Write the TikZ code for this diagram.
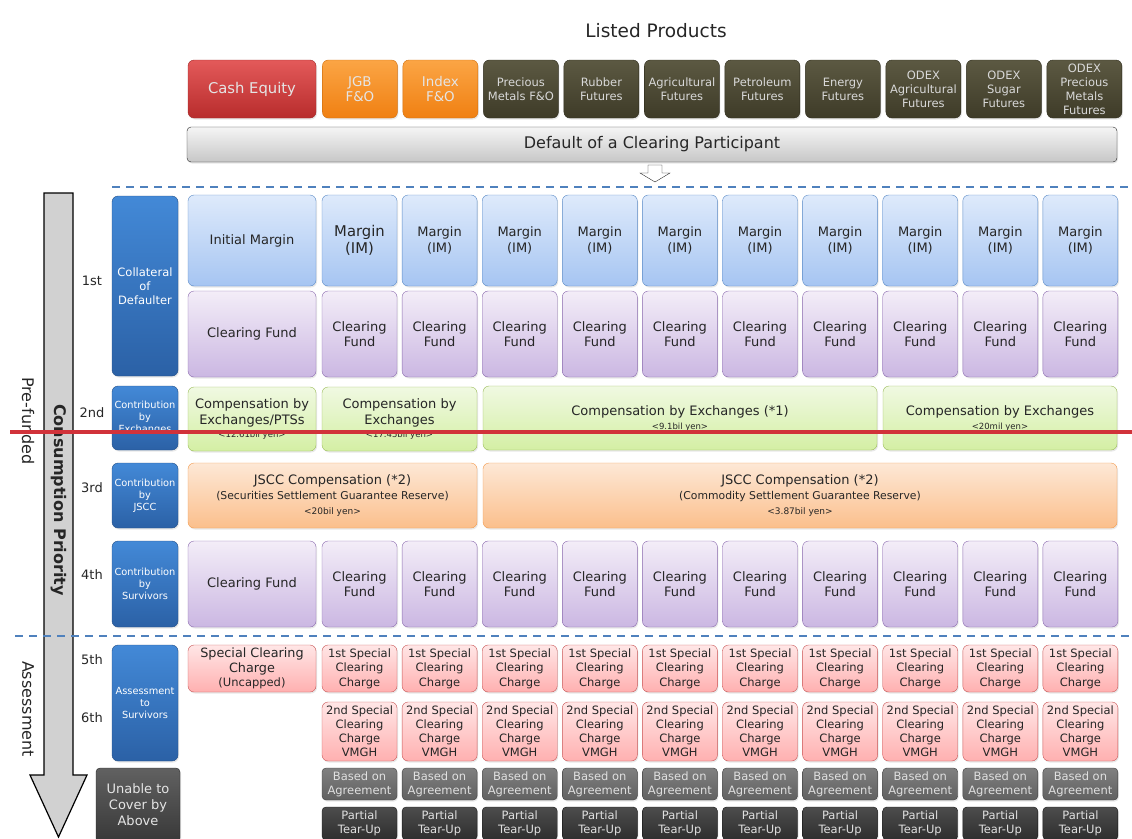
\documentclass[tikz,border=0pt]{standalone}
\usepackage{fontspec}
\setmainfont{DejaVu Sans}
\usepackage{tikz}
\usetikzlibrary{positioning, calc, shadows}

\newcommand{\fsz}[2]{\fontsize{#1}{#2}\selectfont}

\definecolor{txt}{HTML}{262626}
\definecolor{cashT}{HTML}{E35A5A}\definecolor{cashB}{HTML}{B82C2C}\definecolor{cashD}{HTML}{A02828}
\definecolor{orgT}{HTML}{FBA545}\definecolor{orgB}{HTML}{F08012}\definecolor{orgD}{HTML}{D07010}
\definecolor{olvT}{HTML}{5C5942}\definecolor{olvB}{HTML}{3E3B28}\definecolor{olvD}{HTML}{2F2D1E}
\definecolor{imT}{HTML}{DEEAFB}\definecolor{imB}{HTML}{A6C5F2}\definecolor{imD}{HTML}{5A8AC6}
\definecolor{cfT}{HTML}{F3EDF8}\definecolor{cfB}{HTML}{CBB7E2}\definecolor{cfD}{HTML}{8A6AAE}
\definecolor{grnT}{HTML}{F0F9E2}\definecolor{grnB}{HTML}{D4EFA4}\definecolor{grnD}{HTML}{9BBB59}
\definecolor{jsT}{HTML}{FDE8D6}\definecolor{jsB}{HTML}{FBBF8C}\definecolor{jsD}{HTML}{F2994C}
\definecolor{chT}{HTML}{FFE6E6}\definecolor{chB}{HTML}{FFB0B0}\definecolor{chD}{HTML}{C85555}
\definecolor{sideT}{HTML}{4389D7}\definecolor{sideB}{HTML}{2B61A6}\definecolor{sideD}{HTML}{254F86}
\definecolor{dashblue}{HTML}{4F81BD}
\definecolor{redline}{HTML}{D1323A}

\tikzset{
  box/.style={rounded corners=6pt, draw, align=center, inner sep=1pt, text=txt,
    drop shadow={opacity=0.18, shadow xshift=1pt, shadow yshift=-1.5pt}},
  prod/.style={box, minimum width=75pt, minimum height=58pt, text=white!90!black,
    font=\fsz{11.5}{14}},
  cash/.style={prod, draw=cashD, top color=cashT, bottom color=cashB, font=\fsz{14.8}{17}},
  orng/.style={prod, draw=orgD, top color=orgT, bottom color=orgB, font=\fsz{13.4}{15}},
  olive/.style={prod, draw=olvD, top color=olvT, bottom color=olvB, text=white!85!black},
  margin/.style={box, draw=imD, top color=imT, bottom color=imB, minimum width=75pt,
    minimum height=91pt, font=\fsz{13}{16}},
  fund/.style={box, draw=cfD, top color=cfT, bottom color=cfB, minimum width=75pt,
    minimum height=86pt, font=\fsz{13}{15}},
  comp/.style={box, draw=grnD, top color=grnT, bottom color=grnB, minimum height=64pt,
    font=\fsz{13}{16}},
  jscc/.style={box, draw=jsD, top color=jsT, bottom color=jsB, minimum height=65pt,
    font=\fsz{13}{15}},
  charge/.style={box, draw=chD, top color=chT, bottom color=chB, minimum width=75pt,
    minimum height=47pt, font=\fsz{11.5}{14.5}},
  agree/.style={box, rounded corners=4pt, draw=black!75, top color=black!50,
    bottom color=black!62, minimum width=75pt, minimum height=32pt,
    text=white!88!black, font=\fsz{11.5}{14}},
  tearup/.style={box, rounded corners=4pt, draw=black!90, top color=black!70,
    bottom color=black!82, minimum width=75pt, minimum height=33pt,
    text=white!88!black, font=\fsz{11.5}{13.5}},
  side/.style={box, draw=sideD, top color=sideT, bottom color=sideB, minimum width=66pt,
    text=white, font=\fsz{9.8}{12}},
  order/.style={text=txt, font=\fsz{13}{15}},
  stage/.style={text=txt, rotate=-90, font=\fsz{16}{18}},
  divider/.style={dashblue, line width=2.5pt, dash pattern=on 8pt off 6pt},
}

\begin{document}
\begin{tikzpicture}[x=1pt, y=-1pt]
    \useasboundingbox (0,0) rectangle (1132,838);

    % listed products
    \node[text=txt, font=\fsz{18.5}{20}] (title) at (656,31) {Listed Products};
    \node[cash, minimum width=128pt] (cash) at (252,89) {Cash Equity};
    \node[orng] (jgb) [right=6pt of cash] {JGB\\F\&O};
    \node[orng] (idx) [right=5.1pt of jgb] {Index\\F\&O};
    \node[olive] (pm) [right=5.1pt of idx] {Precious\\Metals F\&O};
    \node[olive] (rubber) [right=5.1pt of pm] {Rubber\\Futures};
    \node[olive] (agri) [right=5.1pt of rubber] {Agricultural\\Futures};
    \node[olive] (petro) [right=5.1pt of agri] {Petroleum\\Futures};
    \node[olive] (energy) [right=5.1pt of petro] {Energy\\Futures};
    \node[olive] (oagri) [right=5.1pt of energy] {ODEX\\Agricultural\\Futures};
    \node[olive] (osugar) [right=5.1pt of oagri] {ODEX\\Sugar\\Futures};
    \node[olive] (opm) [right=5.1pt of osugar] {ODEX\\Precious\\Metals\\Futures};

    \node[box, rounded corners=4pt, draw=black!85, top color=white!96!black,
      bottom color=black!22, minimum width=930pt, minimum height=35pt,
      font=\fsz{16}{18}] (dflt) at (652,144.5) {Default of a Clearing Participant};
    \draw[black!85, fill=white] (648,165) -- (662,165) -- (662,173) -- (670,173)
      -- (655,182) -- (640,173) -- (648,173) -- cycle;

    % priority arrow and stages
    \draw[black, line width=1.2pt, fill=black!18] (44,193) -- (73,193) -- (73,775)
      -- (87,775) -- (58.5,837) -- (30,775) -- (44,775) -- cycle;
    \node[text=txt, rotate=-90, font=\bfseries\fsz{16}{18}] (prio) at (58.5,500)
      {Consumption Priority};
    \node[stage] (pre) at (28,421) {Pre-funded};
    \node[stage] (asm) at (28,709) {Assessment};

    \draw[divider] (112,187) -- (1132,187);
    \draw[divider] (15,636) -- (1132,636);

    \node[order] (o1) at (92,281) {1st};
    \node[order] (o2) at (92,413) {2nd};
    \node[order] (o3) at (92,488) {3rd};
    \node[order] (o4) at (92,575) {4th};
    \node[order] (o5) at (92,660) {5th};
    \node[order] (o6) at (92,718) {6th};

    \node[side, minimum height=180pt, font=\fsz{11.5}{14}] (coll) at (145,286)
      {Collateral\\of\\Defaulter};
    \node[side, minimum height=64pt] (cexch) at (145,418) {Contribution\\by\\Exchanges};
    \node[side, minimum height=65pt] (cjscc) at (145,495.5) {Contribution\\by\\JSCC};
    \node[side, minimum height=86pt] (csurv) at (145,584) {Contribution\\by\\Survivors};
    \node[side, minimum height=116pt] (assess) at (145,703) {Assessment\\to\\Survivors};
    \node[box, rounded corners=4pt, draw=black!85, top color=black!62, bottom color=black!78,
      minimum width=84pt, minimum height=74pt, text=white!90!black,
      font=\fsz{13}{16}] (unable) at (138,805) {Unable to\\Cover by\\Above};

    % first column
    \node[margin, minimum width=128pt] (im0) at (252,240.5) {Initial Margin};
    \node[fund, minimum width=128pt] (cf0) at (252,334) {Clearing Fund};
    \node[fund, minimum width=128pt] (sf0) at (252,584) {Clearing Fund};
    \node[charge, minimum width=128pt, font=\fsz{12.8}{14.5}] (sc0) at (252,668.5)
      {Special Clearing\\Charge\\{\fsz{11.5}{13}(Uncapped)}};

    % contributions
    \node[comp, minimum width=128pt] (ce0) at (252,419)
      {Compensation by\\Exchanges/PTSs\\[-3pt]{\fsz{8.5}{10}<12.61bil yen>}};
    \node[comp, minimum width=155pt] (ce1) at (399.5,419)
      {Compensation by\\Exchanges\\[-3pt]{\fsz{8.5}{10}<17.45bil yen>}};
    \node[comp, minimum width=394pt] (ce2) at (680,418) [text depth=0pt]
      {Compensation by Exchanges (*1)\\[-2pt]{\fsz{8.5}{10}<9.1bil yen>}};
    \node[comp, minimum width=234pt] (ce3) at (1000,418)
      {Compensation by Exchanges\\[-2pt]{\fsz{8.5}{10}<20mil yen>}};
    \node[jscc, minimum width=289pt] (js0) at (332.5,495.5)
      {JSCC Compensation (*2)\\{\fsz{10.8}{13}(Securities Settlement Guarantee Reserve)}\\
       {\fsz{9}{12}<20bil yen>}};
    \node[jscc, minimum width=634pt] (js1) at (800,495.5)
      {JSCC Compensation (*2)\\{\fsz{10.8}{13}(Commodity Settlement Guarantee Reserve)}\\
       {\fsz{9}{12}<3.87bil yen>}};

    % product columns
    \node[margin, font=\fsz{14.8}{17}] (im1) at (359.5,240.5) {Margin\\(IM)};
    \foreach \i in {2,...,10}{
      \pgfmathsetmacro\cx{359.5+80.1*(\i-1)}
      \node[margin] (im\i) at (\cx,240.5) {Margin\\(IM)};
    }
    \foreach \i in {1,...,10}{
      \pgfmathsetmacro\cx{359.5+80.1*(\i-1)}
      \node[fund] (cf\i) at (\cx,334) {Clearing\\Fund};
      \node[fund] (sf\i) at (\cx,584) {Clearing\\Fund};
      \node[charge] (sc\i) at (\cx,668.5) {1st Special\\Clearing\\Charge};
      \node[charge, minimum height=59pt, font=\fsz{11.5}{14}] (vm\i) at (\cx,731.5)
        {2nd Special\\Clearing\\Charge\\VMGH};
      \node[agree] (ag\i) at (\cx,784) {Based on\\Agreement};
      \node[tearup] (tu\i) at (\cx,823.5) {Partial\\Tear-Up};
    }

    \draw[redline, line width=4pt] (10,432) -- (1132,432);
\end{tikzpicture}
\end{document}
